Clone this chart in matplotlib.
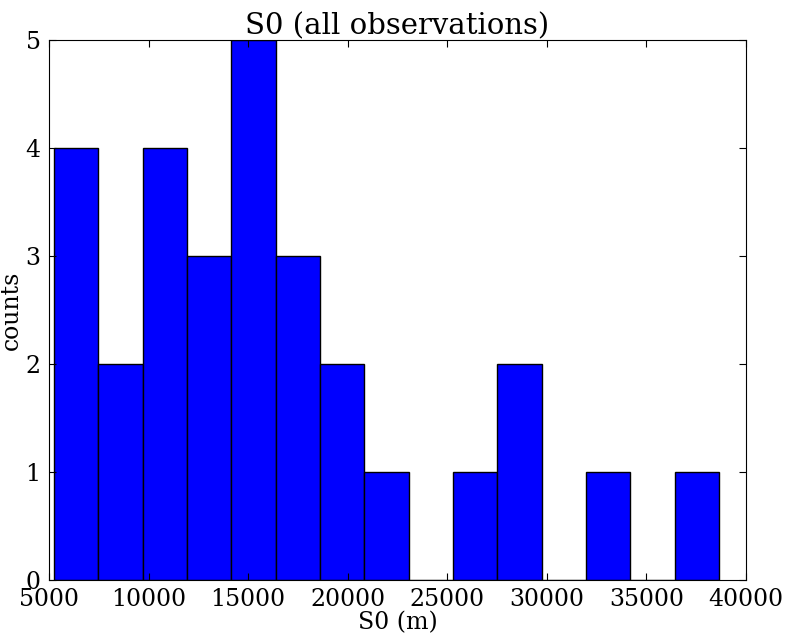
import numpy as np
import matplotlib
matplotlib.use("Agg")
import matplotlib.pyplot as plt

# contagens do histograma de S0 (15 bins)
contagens = [4, 2, 4, 3, 5, 3, 2, 1, 0, 1, 2, 0, 1, 0, 1]
s0_min = 5250
s0_max = 38640
n_bins = 15

bordas = np.linspace(s0_min, s0_max, n_bins + 1)
centros = (bordas[:-1] + bordas[1:]) / 2

plt.rcParams["font.family"] = "DejaVu Serif"

fig = plt.figure(figsize=(7.88, 6.39), dpi=100)
ax = fig.add_axes([49 / 788, 1 - 580 / 639, 697 / 788, 540 / 639])

ax.hist(centros, bins=bordas, weights=contagens, color="#0000ff",
        edgecolor="black", linewidth=1)

ax.set_xlim(5000, 40000)
ax.set_ylim(0, 5)
ax.set_xticks([5000, 10000, 15000, 20000, 25000, 30000, 35000, 40000])
ax.set_yticks([0, 1, 2, 3, 4, 5])
ax.tick_params(direction="in", top=True, right=True, length=5, labelsize=17, pad=6)

ax.set_title("S0 (all observations)", fontsize=21, pad=4)
ax.set_xlabel("S0 (m)", fontsize=17, labelpad=0)
ax.set_ylabel("counts", fontsize=17, labelpad=2)

plt.savefig("out.png", dpi=100)
